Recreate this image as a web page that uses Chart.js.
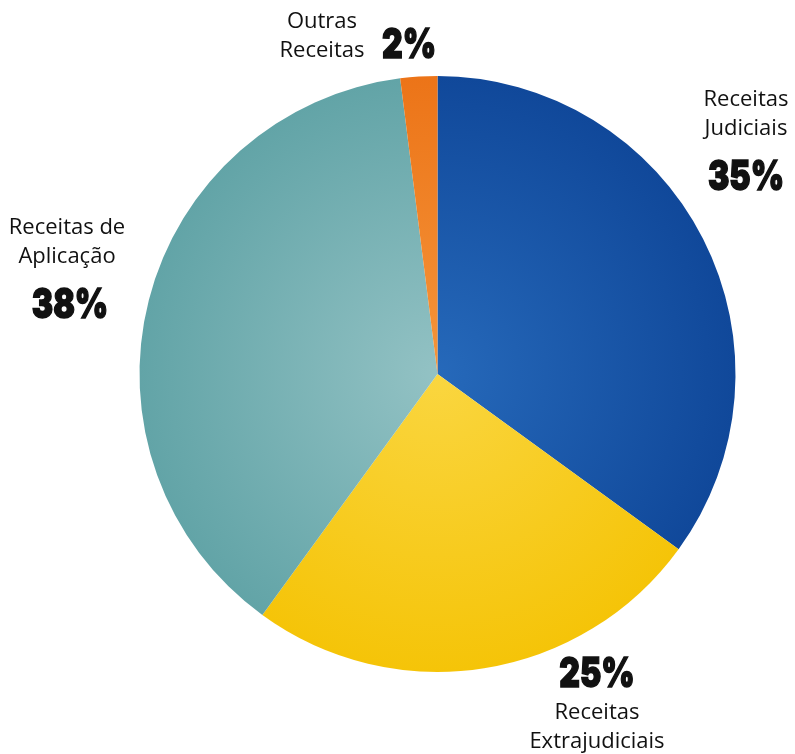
<!DOCTYPE html>
<html>
<head>
<meta charset="utf-8">
<script src="https://cdn.jsdelivr.net/npm/chart.js@4/dist/chart.umd.min.js"></script>
<style>
  html, body { margin: 0; padding: 0; background: #fff; }
  #wrap { width: 795px; height: 754px; position: relative; }
</style>
</head>
<body>
<div id="wrap"><canvas id="PieChart"></canvas></div>
<script>
// data
var categories = ['Receitas Judiciais', 'Receitas Extrajudiciais', 'Receitas de Aplicação', 'Outras Receitas'];
var shares = [35, 25, 38, 2];
var labelLines = [['Receitas', 'Judiciais'], ['Receitas', 'Extrajudiciais'], ['Receitas de', 'Aplicação'], ['Outras', 'Receitas']];

// inner / outer colour of each slice
var innerColors = ['#2669ba', '#fad640', '#93c2c4', '#f5953a'];
var outerColors = ['#10489a', '#f5c408', '#62a4a7', '#ec7418'];

function sliceFill(ctx) {
    var chart = ctx.chart;
    var area = chart.chartArea;
    if (!area) return outerColors[ctx.dataIndex];
    var cx = (area.left + area.right) / 2;
    var cy = (area.top + area.bottom) / 2;
    var r = Math.min(area.right - area.left, area.bottom - area.top) / 2;
    var g = chart.ctx.createRadialGradient(cx, cy, 0, cx, cy, r);
    g.addColorStop(0, innerColors[ctx.dataIndex]);
    g.addColorStop(1, outerColors[ctx.dataIndex]);
    return g;
}

var labelPlugin = {
    id: 'sliceLabels',
    afterDraw: function (chart) {
        var c = chart.ctx;
        var pos = [
            { x: 746, y: 100, pct: { x: 746, y: 178 } },
            { x: 597, y: 713, pct: { x: 597, y: 675 } },
            { x: 67, y: 228, pct: { x: 70, y: 306 } },
            { x: 322, y: 22, pct: { x: 409, y: 46 } }
        ];
        c.save();
        c.textAlign = 'center';
        c.textBaseline = 'middle';
        c.fillStyle = '#111';
        for (var i = 0; i < categories.length; i++) {
            var p = pos[i];
            c.font = '400 22px "Open Sans"';
            for (var j = 0; j < labelLines[i].length; j++) {
                c.fillText(labelLines[i][j], p.x, p.y + j * 29);
            }
            c.font = '900 41px Inter';
            c.save();
            c.translate(p.pct.x, p.pct.y);
            c.scale(0.78, 1);
            c.lineWidth = 1.5;
            c.strokeStyle = '#111';
            c.strokeText(shares[i] + '%', 0, 0);
            c.fillText(shares[i] + '%', 0, 0);
            c.restore();
        }
        c.restore();
    }
};

new Chart(document.getElementById('PieChart'), {
    type: 'pie',
    data: {
        labels: categories,
        datasets: [{
            data: shares,
            backgroundColor: sliceFill,
            borderWidth: 0
        }]
    },
    options: {
        responsive: true,
        maintainAspectRatio: false,
        animation: false,
        layout: { padding: { left: 139, right: 59, top: 76, bottom: 82 } },
        plugins: {
            legend: { display: false },
            tooltip: { enabled: false }
        }
    },
    plugins: [labelPlugin]
});
</script>
</body>
</html>
